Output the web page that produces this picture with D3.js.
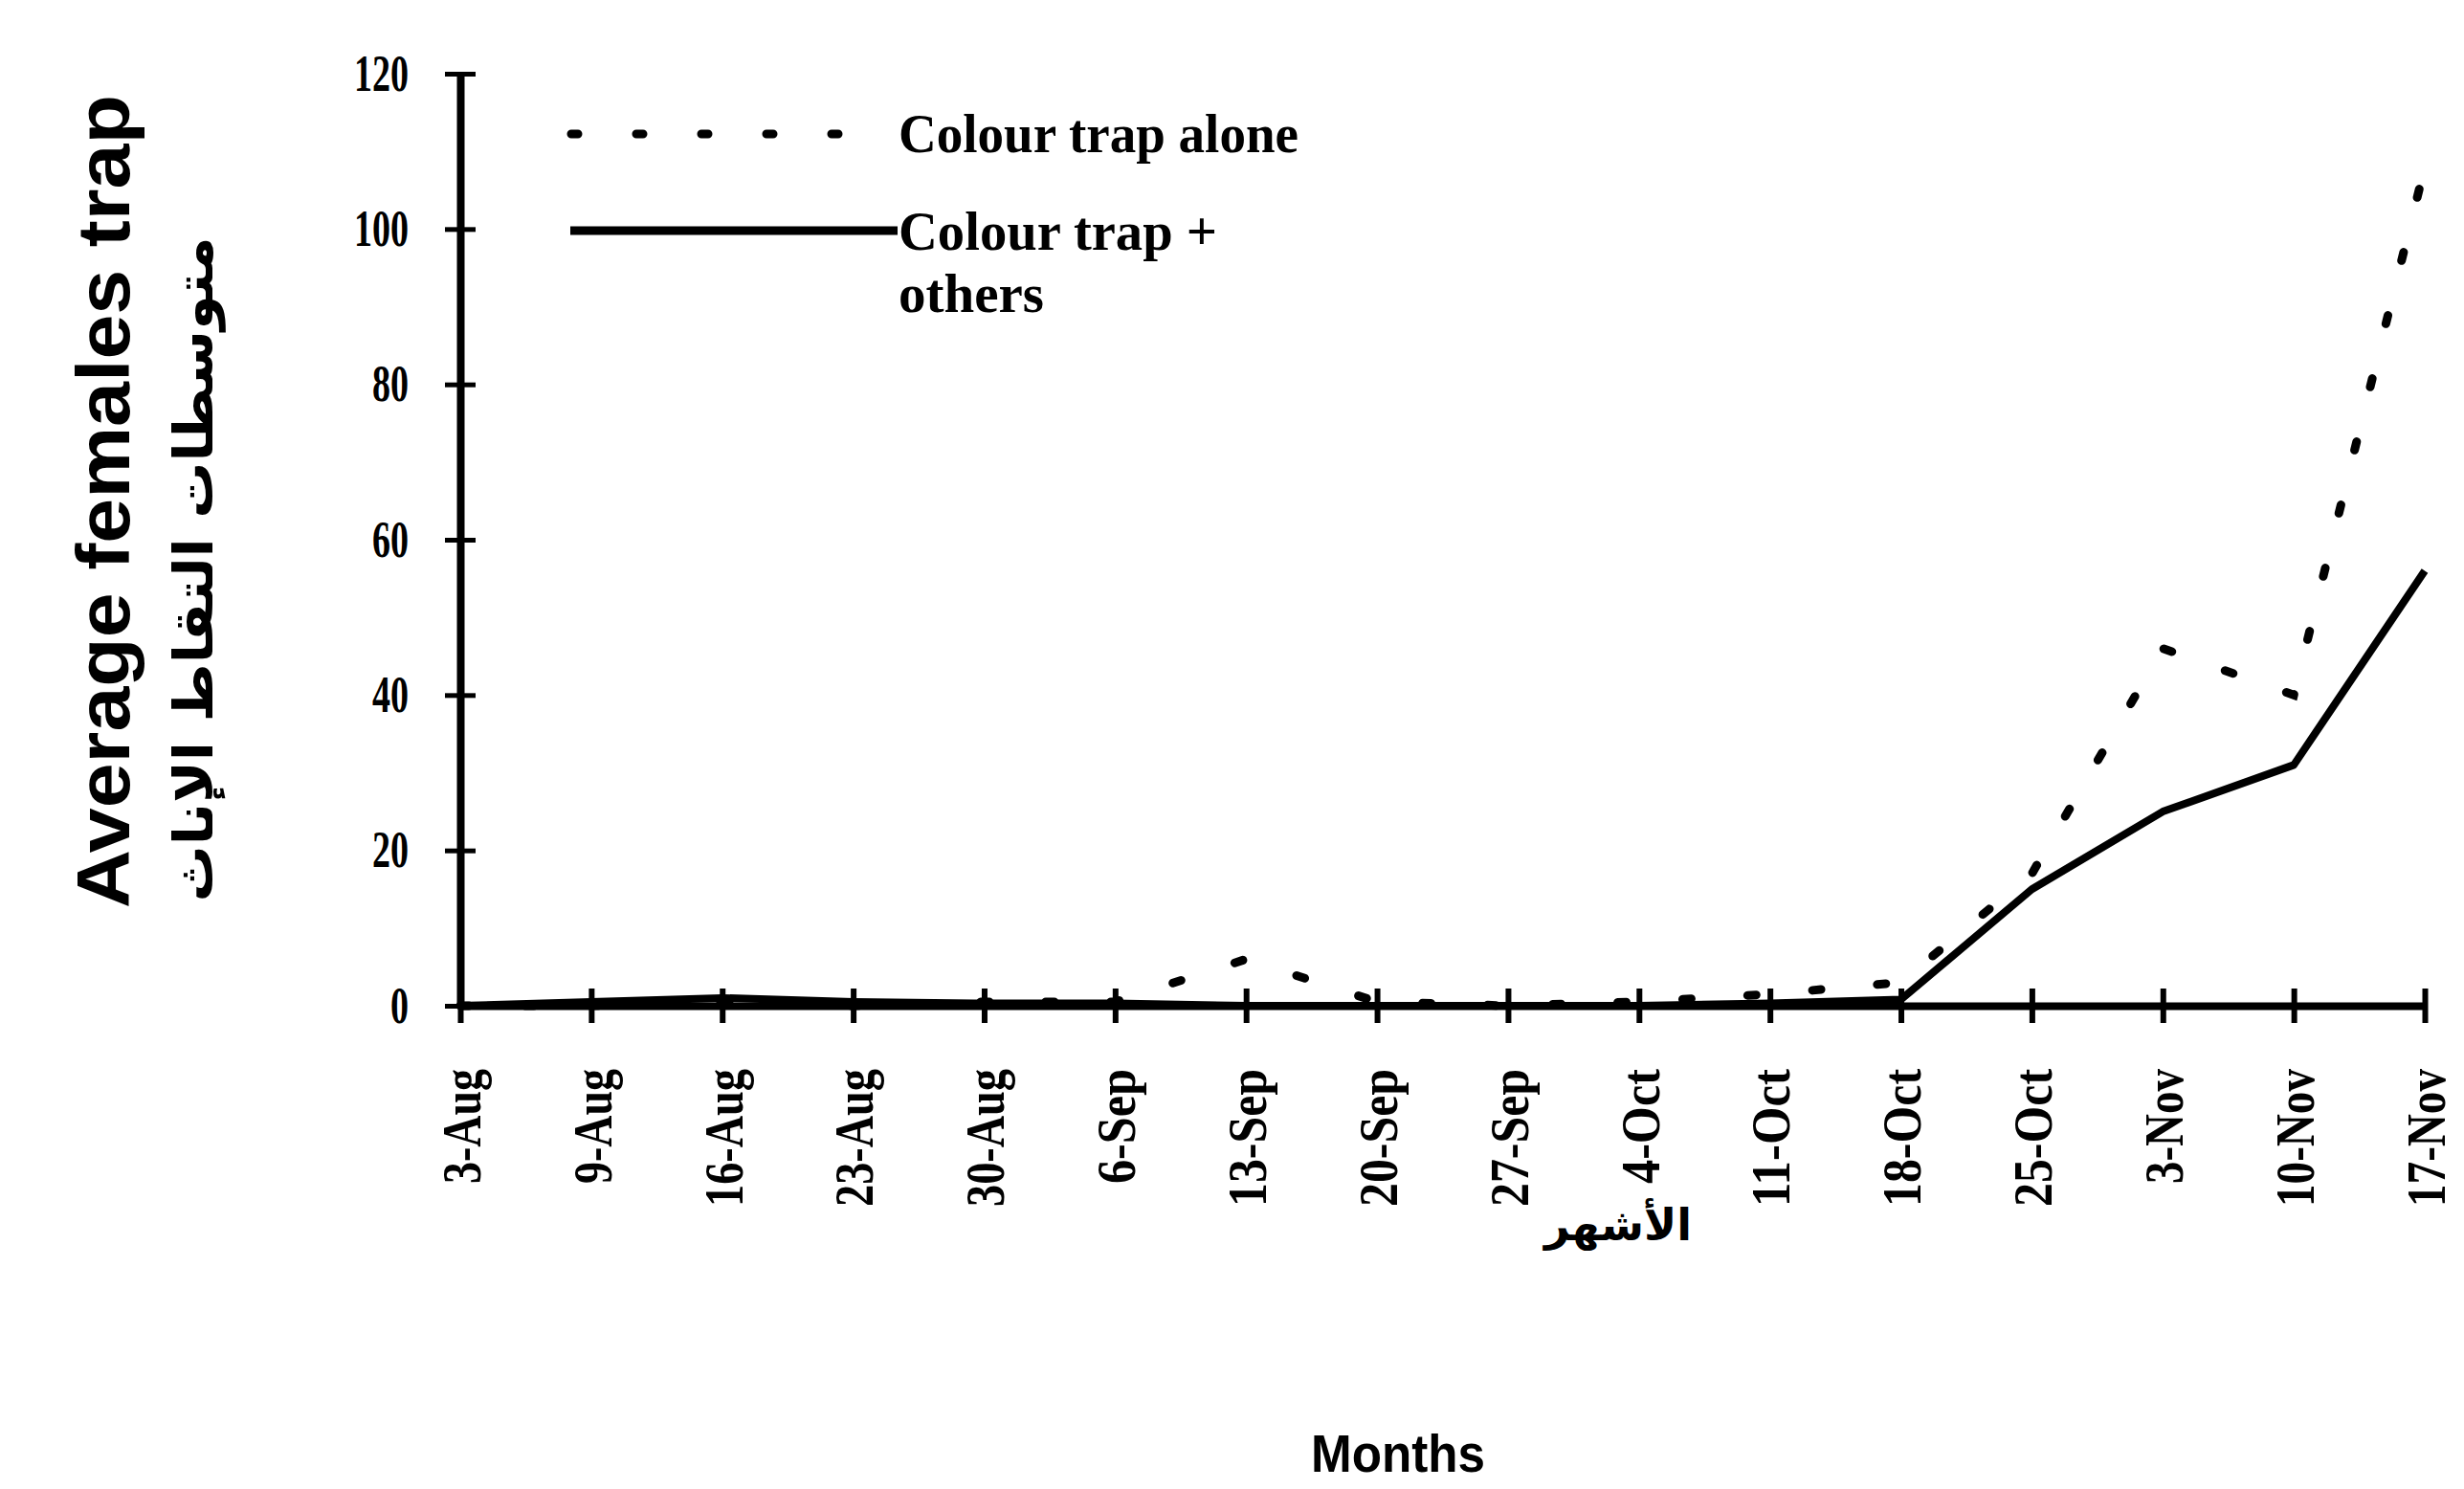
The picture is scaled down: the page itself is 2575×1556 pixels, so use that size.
<!DOCTYPE html>
<html>
<head>
<meta charset="utf-8">
<script src="https://cdn.jsdelivr.net/npm/d3@7"></script>
<style>
  html, body { margin: 0; padding: 0; background: #fff; }
  svg { display: block; }
</style>
</head>
<body>
<div id="chart"></div>
<script>
// dates on the x axis
const dates = ["3-Aug", "9-Aug", "16-Aug", "23-Aug", "30-Aug", "6-Sep", "13-Sep", "20-Sep",
               "27-Sep", "4-Oct", "11-Oct", "18-Oct", "25-Oct", "3-Nov", "10-Nov", "17-Nov"];
// Colour trap alone (dotted)
const trapAlone = [0, 0, 0.5, 0, 0.5, 0.5, 6, 0.5, 0, 0.5, 1.5, 3, 17, 46, 40, 108];
// Colour trap + others (solid)
const trapOthers = [0, 0.5, 1, 0.5, 0.3, 0.3, 0, 0, 0, 0, 0.3, 0.8, 15, 25, 31, 56];
const yTicks = [0, 20, 40, 60, 80, 100, 120];

const W = 2575, H = 1556;
const plot = {left: 481, right: 2534, top: 77, bottom: 1051};
const serif = "'Liberation Serif', 'Times New Roman', serif";
const sans = "'Liberation Sans', Arial, sans-serif";

var svg = d3.select("#chart")
  .append("svg")
  .attr("width", W)
  .attr("height", H);

const x = d3.scalePoint()
  .domain(dates)
  .range([plot.left, plot.right]);

const y = d3.scaleLinear()
  .domain([0, 120])
  .range([plot.bottom, plot.top]);

// y axis
var yAxis = svg.append("g")
  .attr("transform", "translate(" + plot.left + ",0)")
  .call(d3.axisLeft(y).tickValues(yTicks).tickSizeInner(16).tickSizeOuter(0).tickPadding(38));
yAxis.select(".domain").attr("stroke", "#000").attr("stroke-width", 8);
yAxis.selectAll(".tick line")
  .attr("x1", 16)
  .attr("stroke", "#000")
  .attr("stroke-width", 5);
yAxis.selectAll(".tick text")
  .attr("font-family", serif)
  .attr("font-weight", "bold")
  .attr("font-size", "54px")
  .attr("fill", "#000")
  .attr("textLength", d => String(d).length * 19)
  .attr("lengthAdjust", "spacingAndGlyphs");

// x axis
var xAxis = svg.append("g")
  .attr("transform", "translate(0," + plot.bottom + ")")
  .call(d3.axisBottom(x).tickSizeInner(18).tickSizeOuter(0).tickPadding(0));
xAxis.select(".domain").attr("stroke", "#000").attr("stroke-width", 8);
xAxis.selectAll(".tick line")
  .attr("y1", -18)
  .attr("stroke", "#000")
  .attr("stroke-width", 6);
xAxis.selectAll(".tick text")
  .attr("font-family", serif)
  .attr("font-weight", "bold")
  .attr("font-size", "58px")
  .attr("fill", "#000")
  .attr("text-anchor", "end")
  .attr("transform", "rotate(-90)")
  .attr("x", -66)
  .attr("y", 0)
  .attr("dy", "0.35em")
  .attr("textLength", d => d.length * 24)
  .attr("lengthAdjust", "spacingAndGlyphs");

// lines
const line = d3.line()
  .x((d, i) => x(dates[i]))
  .y(d => y(d));

svg.append("path")
  .datum(trapOthers)
  .attr("d", line)
  .attr("fill", "none")
  .attr("stroke", "#000")
  .attr("stroke-width", 8)
  .attr("stroke-linejoin", "round");

svg.append("path")
  .datum(trapAlone)
  .attr("d", line)
  .attr("fill", "none")
  .attr("stroke", "#000")
  .attr("stroke-width", 9)
  .attr("stroke-linecap", "round")
  .attr("stroke-dasharray", "9,59");

// legend
svg.append("line")
  .attr("x1", 597).attr("x2", 890)
  .attr("y1", 140).attr("y2", 140)
  .attr("stroke", "#000")
  .attr("stroke-width", 9)
  .attr("stroke-linecap", "round")
  .attr("stroke-dasharray", "7,61");
svg.append("text")
  .attr("x", 939).attr("y", 159)
  .attr("font-family", serif)
  .attr("font-weight", "bold")
  .attr("font-size", "58px")
  .attr("textLength", 418)
  .attr("lengthAdjust", "spacingAndGlyphs")
  .text("Colour trap alone");

svg.append("line")
  .attr("x1", 596).attr("x2", 938)
  .attr("y1", 241).attr("y2", 241)
  .attr("stroke", "#000")
  .attr("stroke-width", 9);
svg.append("text")
  .attr("x", 939).attr("y", 261)
  .attr("font-family", serif)
  .attr("font-weight", "bold")
  .attr("font-size", "58px")
  .attr("textLength", 333)
  .attr("lengthAdjust", "spacingAndGlyphs")
  .text("Colour trap +");
svg.append("text")
  .attr("x", 939).attr("y", 326)
  .attr("font-family", serif)
  .attr("font-weight", "bold")
  .attr("font-size", "58px")
  .attr("textLength", 152)
  .attr("lengthAdjust", "spacingAndGlyphs")
  .text("others");

// axis titles
svg.append("text")
  .attr("transform", "translate(135,524) rotate(-90)")
  .attr("text-anchor", "middle")
  .attr("font-family", sans)
  .attr("font-weight", "bold")
  .attr("font-size", "78px")
  .attr("textLength", 850)
  .attr("lengthAdjust", "spacingAndGlyphs")
  .text("Average females trap");

svg.append("text")
  .attr("transform", "translate(222,595) rotate(-90)")
  .attr("text-anchor", "middle")
  .attr("font-family", "'DejaVu Sans', 'Noto Sans', sans-serif")
  .attr("font-weight", "bold")
  .attr("font-size", "56px")
  .attr("textLength", 695)
  .attr("lengthAdjust", "spacingAndGlyphs")
  .text("متوسطات التقاط الإناث");

svg.append("text")
  .attr("x", 1691).attr("y", 1296)
  .attr("text-anchor", "middle")
  .attr("font-family", "'DejaVu Sans', 'Noto Sans', sans-serif")
  .attr("font-weight", "bold")
  .attr("font-size", "46px")
  .text("الأشهر");

svg.append("text")
  .attr("x", 1461).attr("y", 1538)
  .attr("text-anchor", "middle")
  .attr("font-family", sans)
  .attr("font-weight", "bold")
  .attr("font-size", "56px")
  .attr("textLength", 182)
  .attr("lengthAdjust", "spacingAndGlyphs")
  .text("Months");
</script>
</body>
</html>
